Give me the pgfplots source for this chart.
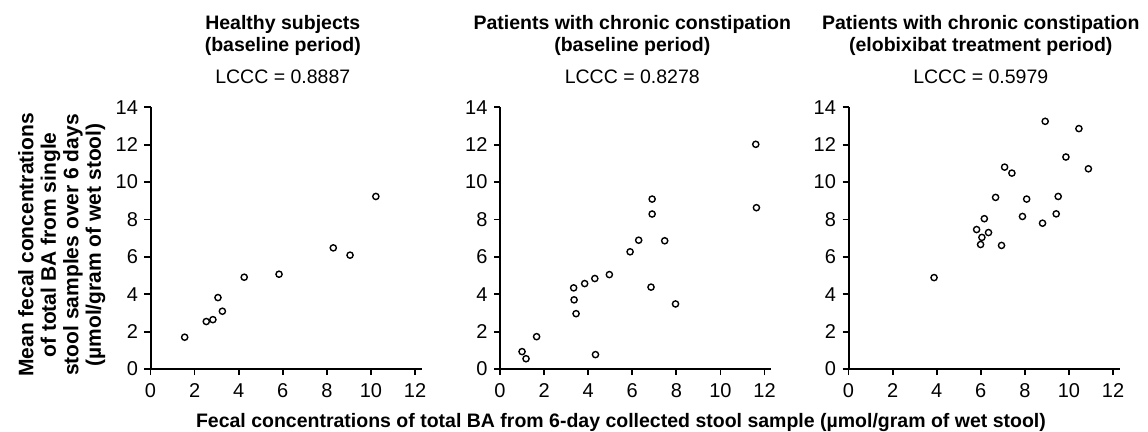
\documentclass[border=0pt]{standalone}
\usepackage{fontspec}
\setmainfont{Liberation Sans}
\usepackage{pgfplots}
\pgfplotsset{compat=1.18}

\pgfplotsset{
  panel/.style={
    scale only axis, width=271.2pt, height=261.7pt,
    xmin=0, xmax=12.3, ymin=0, ymax=14,
    xtick={0,2,...,12}, ytick={0,2,...,14},
    axis x line*=bottom, axis y line*=left,
    axis line style={line width=2pt},
    every tick/.style={black, line width=1.8pt},
    tick align=outside, major tick length=6pt,
    ticklabel style={font=\fontsize{20}{21}\selectfont},
    xticklabel style={yshift=-5pt},
    yticklabel style={xshift=-3pt},
    /pgf/number format/assume math mode=true,
    clip=false,
  },
  dots/.style={only marks, mark=*, mark size=3.1pt,
    mark options={draw=black, fill=white, line width=1.4pt}},
}
\tikzset{
  ttl/.style={anchor=base, inner sep=0pt, font=\bfseries\fontsize{19.5}{22}\selectfont},
  lccc/.style={anchor=base, inner sep=0pt, font=\fontsize{19.5}{22}\selectfont},
}

\begin{document}
\begin{tikzpicture}
\useasboundingbox (0,0) rectangle (1148pt,431pt);

% healthy subjects
\begin{axis}[panel, at={(150.5pt,62pt)}, anchor=south west]
\addplot[dots] coordinates {
  (1.55,1.70) (2.53,2.54) (2.83,2.64) (3.06,3.82) (3.26,3.09)
  (4.25,4.91) (5.83,5.07) (8.29,6.48) (9.05,6.09) (10.22,9.23)
};
\node[ttl] at ([yshift=78pt]rel axis cs:0.4878,1) {Healthy subjects};
\node[ttl] at ([yshift=55.6pt]rel axis cs:0.4878,1) {(baseline period)};
\node[lccc] at ([yshift=24pt]rel axis cs:0.4878,1) {LCCC = 0.8887};
\node[rotate=90, anchor=north, align=center, inner sep=0pt,
      font=\bfseries\fontsize{21}{22.5}\selectfont]
  at ([xshift=-132.5pt]rel axis cs:0,0.474)
  {Mean fecal concentrations\\of total BA from single\\stool samples over 6 days\\(µmol/gram of wet stool)};
\end{axis}

% constipation, baseline
\begin{axis}[panel, at={(500pt,62pt)}, anchor=south west]
\addplot[dots] coordinates {
  (1.00,0.93) (1.18,0.55) (1.66,1.73) (3.34,4.34) (3.36,3.70)
  (3.45,2.96) (3.84,4.57) (4.30,4.84) (4.33,0.77) (4.96,5.05)
  (5.90,6.27) (6.29,6.89) (6.90,9.09) (6.90,8.29) (6.85,4.38)
  (7.47,6.86) (7.96,3.48) (11.60,12.02) (11.63,8.63)
};
\node[ttl] at ([yshift=78pt]rel axis cs:0.4878,1) {Patients with chronic constipation};
\node[ttl] at ([yshift=55.6pt]rel axis cs:0.4878,1) {(baseline period)};
\node[lccc] at ([yshift=24pt]rel axis cs:0.4878,1) {LCCC = 0.8278};
\node[anchor=base, inner sep=0pt, font=\bfseries\fontsize{19.5}{22}\selectfont]
  at ([yshift=-58pt]rel axis cs:0.446,0)
  {Fecal concentrations of total BA from 6-day collected stool sample (µmol/gram of wet stool)};
\end{axis}

% constipation, elobixibat treatment
\begin{axis}[panel, at={(848.5pt,62pt)}, anchor=south west]
\addplot[dots] coordinates {
  (3.88,4.89) (5.81,7.46) (6.16,8.04) (6.05,7.04) (5.99,6.66)
  (6.35,7.30) (6.67,9.18) (6.94,6.61) (7.08,10.80) (7.41,10.48)
  (7.89,8.16) (8.08,9.09) (8.80,7.80) (8.92,13.25) (9.42,8.30)
  (9.51,9.23) (9.86,11.34) (10.45,12.86) (10.88,10.71)
};
\node[ttl] at ([yshift=78pt]rel axis cs:0.4878,1) {Patients with chronic constipation};
\node[ttl] at ([yshift=55.6pt]rel axis cs:0.4878,1) {(elobixibat treatment period)};
\node[lccc] at ([yshift=24pt]rel axis cs:0.4878,1) {LCCC = 0.5979};
\end{axis}
\end{tikzpicture}
\end{document}
